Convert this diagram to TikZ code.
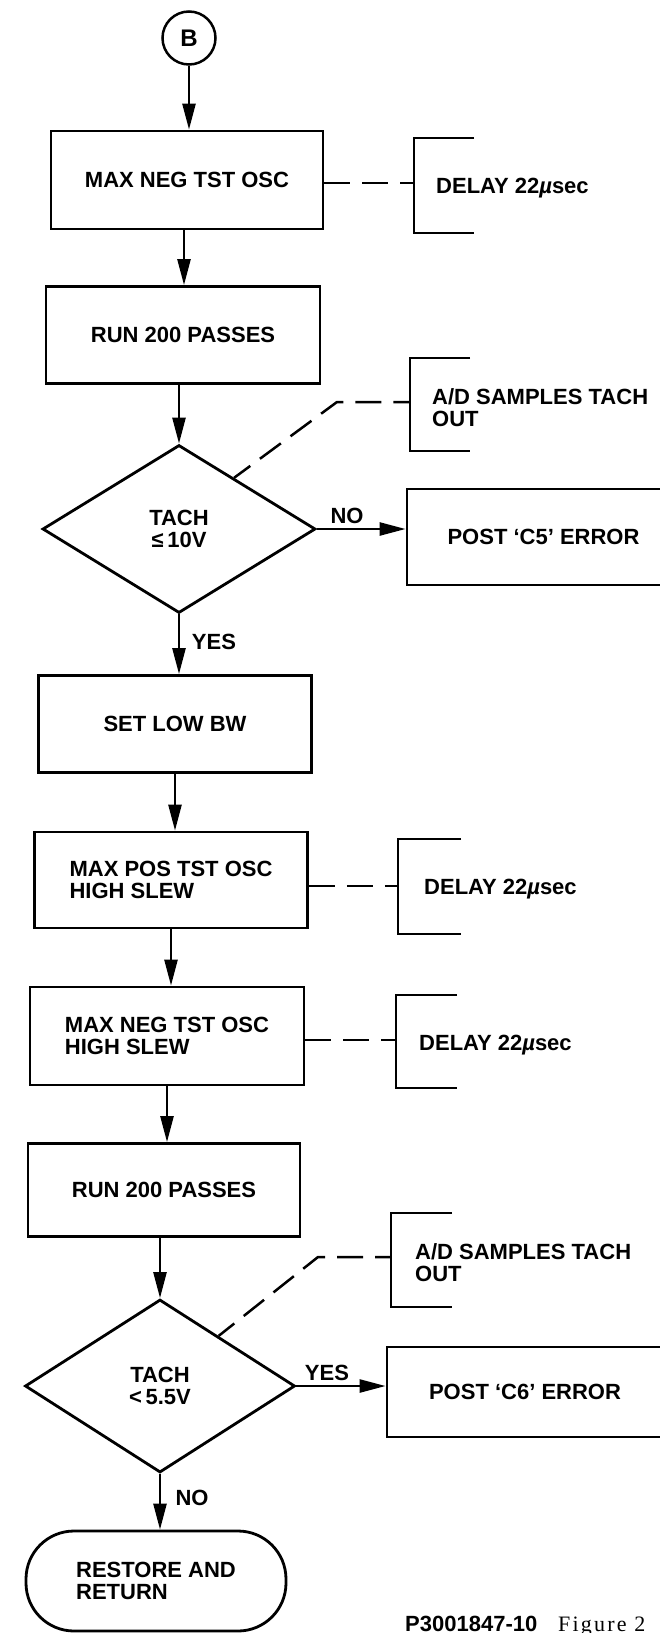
\documentclass[tikz,border=0pt]{standalone}
\usepackage{fontspec}
\setmainfont{Liberation Sans}
\newfontfamily\capserif[LetterSpace=10]{Liberation Serif}
\usetikzlibrary{shapes.geometric,arrows.meta,calc}
\begin{document}
\begin{tikzpicture}[x=1pt,y=-1pt,
  txt/.style={font=\fontsize{22}{22}\selectfont\bfseries},
  lbl/.style={txt, inner sep=0pt},
  box/.style={txt, draw, line width=2.8pt, rectangle, inner sep=0pt, align=center},
  dia/.style={txt, draw, line width=2.8pt, diamond, aspect=1.6, inner sep=0pt, align=center},
  flow/.style={line width=2.5pt, -{Triangle[length=26pt,width=13pt]}},
  dsh/.style={line width=2.5pt, dash pattern=on 26pt off 12pt},
  brk/.style={line width=2.8pt},
  ann/.style={txt, anchor=west, align=left, inner sep=0pt}
]
\useasboundingbox (0,0) rectangle (660,1633);
\clip (0,0) rectangle (660,1633);

% start connector
\node[draw, circle, line width=2.5pt, minimum size=53pt, inner sep=0pt,
  font=\fontsize{24}{24}\selectfont\bfseries] (B) at (189,38) {B};

% process boxes
\node[box, minimum width=272pt, minimum height=98pt] (box1) at (187,180) {MAX NEG TST OSC};
\node[box, minimum width=274pt, minimum height=97pt] (box2) at (183,335) {RUN 200 PASSES};
\node[dia, minimum width=273pt, minimum height=168pt] (d1) at (179,529) {TACH\\≤\,10V};
\node[box, minimum width=273pt, minimum height=97pt] (box3) at (175,724) {SET LOW BW};
\node[box, minimum width=273pt, minimum height=96pt, align=left] (box4) at (171,880) {MAX POS TST OSC\\HIGH SLEW};
\node[box, minimum width=274pt, minimum height=98pt, align=left] (box5) at (167,1036) {MAX NEG TST OSC\\HIGH SLEW};
\node[box, minimum width=272pt, minimum height=93pt] (box6) at (164,1190) {RUN 200 PASSES};
\node[dia, minimum width=270pt, minimum height=173pt] (d2) at (160,1386) {TACH\\<\,5.5V};
\node[box, minimum width=260pt, minimum height=100pt, rounded corners=48pt, align=left] (term) at (156,1581) {RESTORE AND\\RETURN};

% error boxes
\node[box, minimum width=273pt, minimum height=96pt] (err1) at (543.5,537) {POST ‘C5’ ERROR};
\node[box, minimum width=276pt, minimum height=90pt] (err2) at (525,1392) {POST ‘C6’ ERROR};

% main flow
\draw[flow] (B.south) -- (B.south |- box1.north);
\draw[flow] (box1.south -| 184,0) -- (box2.north -| 184,0);
\draw[flow] (box2.south -| d1.north) -- (d1.north);
\draw[flow] (d1.south) -- (d1.south |- box3.north);
\draw[flow] (box3.south) -- (box3.south |- box4.north);
\draw[flow] (box4.south) -- (box4.south |- box5.north);
\draw[flow] (box5.south) -- (box5.south |- box6.north);
\draw[flow] (box6.south -| d2.north) -- (d2.north);
\draw[flow] (d2.south) -- (d2.south |- term.north);
\draw[flow] (d1.east) -- (d1.east -| err1.west);
\draw[flow] (d2.east) -- (d2.east -| err2.west);

% branch labels
\node[lbl] (no1) at (347,516) {NO};
\node[lbl] (yes1) at (214,642) {YES};
\node[lbl] (yes2) at (327,1373) {YES};
\node[lbl] (no2) at (192,1498) {NO};

% annotation brackets
\coordinate (k1) at (414,183);
\draw[brk] (474,138) -- (414,138) -- (414,233) -- (474,233);
\draw[dsh] (box1.east |- k1) -- (k1);
\node[ann] (a1) at (436,188) {DELAY 22{\itshape µ}sec};

\coordinate (k2) at (410,402);
\coordinate (j2) at (337,402);
\draw[brk] (470,358) -- (410,358) -- (410,451) -- (470,451);
\draw[dsh, dash phase=6pt] ($(d1.north)!0.4!(d1.east)$) -- (j2) -- (k2);
\node[ann] (a2) at (432,408) {A/D SAMPLES TACH\\OUT};

\coordinate (k4) at (398,886);
\draw[brk] (461,839) -- (398,839) -- (398,934) -- (461,934);
\draw[dsh] (box4.east |- k4) -- (k4);
\node[ann] (a4) at (424,889) {DELAY 22{\itshape µ}sec};

\coordinate (k5) at (396,1040);
\draw[brk] (457,995) -- (396,995) -- (396,1088) -- (457,1088);
\draw[dsh] (box5.east |- k5) -- (k5);
\node[ann] (a5) at (419,1045) {DELAY 22{\itshape µ}sec};

\coordinate (k6) at (391,1257);
\coordinate (j6) at (318,1257);
\draw[brk] (452,1213) -- (391,1213) -- (391,1307) -- (452,1307);
\draw[dsh, dash phase=6pt] ($(d2.north)!0.43!(d2.east)$) -- (j6) -- (k6);
\node[ann] (a6) at (415,1263) {A/D SAMPLES TACH\\OUT};

% caption
\node[anchor=base west, inner sep=0pt, txt] (cap1) at (405,1631) {P3001847-10};
\node[anchor=base west, inner sep=0pt, font=\capserif\fontsize{22}{24}\selectfont] (cap2) at (558,1631) {Figure 2};
\end{tikzpicture}
\end{document}
